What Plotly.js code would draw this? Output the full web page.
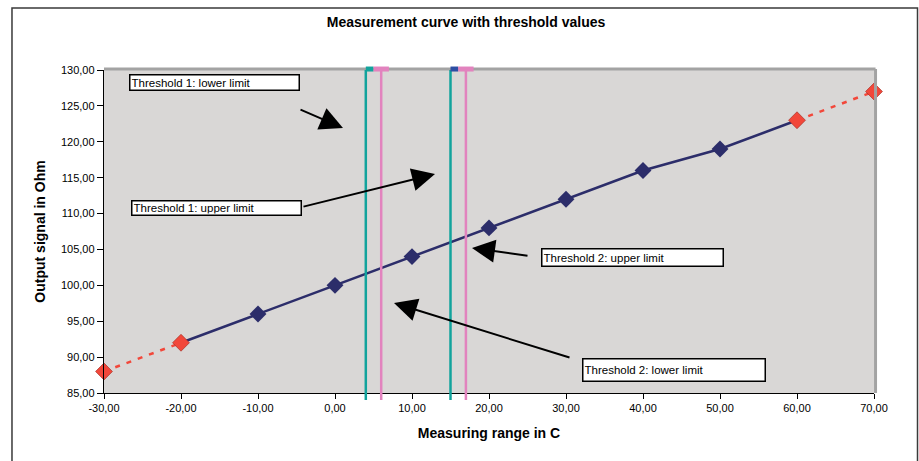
<!DOCTYPE html>
<html>
<head>
<meta charset="utf-8">
<script src="https://cdn.plot.ly/plotly-3.0.1.min.js"></script>
<style>
  html, body { margin: 0; padding: 0; background: #ffffff; }
  #chart { width: 919px; height: 461px; }
</style>
</head>
<body>
<div id="chart"></div>
<script>
// ---- data ----
const temperatures = [-30, -20, -10, 0, 10, 20, 30, 40, 50, 60, 70];
const resistances  = [88, 92, 96, 100, 104, 108, 112, 116, 119, 123, 127];
const measuredFrom = -20;   // start of solid measured segment
const measuredTo = 60;      // end of solid measured segment
const innerFrom = -10;      // navy markers range
const innerTo = 50;

const xTickValues = [-30, -20, -10, 0, 10, 20, 30, 40, 50, 60, 70];
const xTickLabels = ['-30,00', '-20,00', '-10,00', '0,00', '10,00', '20,00', '30,00', '40,00', '50,00', '60,00', '70,00'];
const yTickValues = [85, 90, 95, 100, 105, 110, 115, 120, 125, 130];
const yTickLabels = ['85,00', '90,00', '95,00', '100,00', '105,00', '110,00', '115,00', '120,00', '125,00', '130,00'];

const thresholdPositions = [4, 6, 15, 17];
const thresholdKinds = ['lower', 'upper', 'lower', 'upper'];
const capStarts = [4, 5, 15, 16];
const capEnds   = [5, 7, 16, 18];
const capKinds  = ['lower', 'upper', 'lower2', 'upper'];

const chartTitle = 'Measurement curve with threshold values';
const xTitle = 'Measuring range in C';
const yTitle = 'Output signal in Ohm';
const labels = ['Threshold 1: lower limit', 'Threshold 1: upper limit',
                'Threshold 2: upper limit', 'Threshold 2: lower limit'];

// ---- styles ----
const NAVY = '#2c2d6a';
const RED = '#f2473a';
const kindColor = { lower: '#12a39c', upper: '#e283be', lower2: '#2d4ea3' };

// ---- traces ----
const solidX = [], solidY = [], lowX = [], lowY = [], highX = [], highY = [];
const innerX = [], innerY = [], outerX = [], outerY = [];
temperatures.forEach((t, i) => {
  const r = resistances[i];
  if (t >= measuredFrom && t <= measuredTo) { solidX.push(t); solidY.push(r); }
  if (t <= measuredFrom) { lowX.push(t); lowY.push(r); }
  if (t >= measuredTo) { highX.push(t); highY.push(r); }
  if (t >= innerFrom && t <= innerTo) { innerX.push(t); innerY.push(r); }
  else { outerX.push(t); outerY.push(r); }
});

const traces = [
  { x: lowX, y: lowY, mode: 'lines', line: { color: RED, width: 2.5, dash: '5px,7px' }, hoverinfo: 'skip' },
  { x: highX, y: highY, mode: 'lines', line: { color: RED, width: 2.5, dash: '5px,7px' }, hoverinfo: 'skip' },
  { x: solidX, y: solidY, mode: 'lines', line: { color: NAVY, width: 2.5 } },
  { x: innerX, y: innerY, mode: 'markers', marker: { symbol: 'diamond', size: 13, color: NAVY } },
  { x: outerX, y: outerY, mode: 'markers', cliponaxis: false,
    marker: { symbol: 'diamond', size: 13, color: RED, line: { color: '#a8342a', width: 0.7 } } }
];

// ---- shapes ----
const shapes = [
  // outer frame
  { type: 'rect', xref: 'paper', yref: 'paper', x0: -0.1195, x1: 1.0565, y0: -0.25, y1: 1.192,
    line: { color: '#3a3a3a', width: 1.5 }, layer: 'above' },
  // gray top / right border of plot area
  { type: 'line', xref: 'paper', yref: 'paper', x0: 0, x1: 1.002, y0: 1.003, y1: 1.003,
    line: { color: '#a3a3a3', width: 3 }, layer: 'above' },
  { type: 'line', xref: 'paper', yref: 'paper', x0: 1.002, x1: 1.002, y0: 0, y1: 1.003,
    line: { color: '#a3a3a3', width: 3 }, layer: 'above' }
];
thresholdPositions.forEach((t, i) => {
  shapes.push({ type: 'line', xref: 'x', yref: 'paper', x0: t, x1: t, y0: -0.022, y1: 1,
    line: { color: kindColor[thresholdKinds[i]], width: 2.5 }, layer: 'above' });
});
capStarts.forEach((s, i) => {
  shapes.push({ type: 'line', xref: 'x', yref: 'paper', x0: s, x1: capEnds[i], y0: 1.003, y1: 1.003,
    line: { color: kindColor[capKinds[i]], width: 5 }, layer: 'above' });
});

// ---- annotations (pixel helpers: plot area 104..874 x 70..393) ----
const PL = 104, PW = 770, PT = 70, PH = 323;
const px = v => (v - PL) / PW;
const py = v => (PT + PH - v) / PH;
const boxFont = { family: 'Liberation Sans, Arial, sans-serif', size: 11.5, color: '#000' };
function box(text, x0, y0, x1, y1) {
  return { text: text, xref: 'paper', yref: 'paper', x: px(x0), y: py(y0), xanchor: 'left', yanchor: 'top',
    showarrow: false, align: 'left', valign: 'middle', bgcolor: '#ffffff', bordercolor: '#000000',
    borderwidth: 1.5, borderpad: 1, width: (x1 - x0) - 5, height: (y1 - y0) - 5, font: boxFont };
}
function arrow(tipX, tipY, tailX, tailY) {
  return { text: '', xref: 'paper', yref: 'paper', x: px(tipX), y: py(tipY),
    ax: tailX - tipX, ay: tailY - tipY, showarrow: true, arrowhead: 2, arrowsize: 2.3,
    arrowwidth: 2, arrowcolor: '#000000', standoff: 0, startstandoff: 0 };
}
const annotations = [
  box(labels[0], 129, 74, 300, 91),
  box(labels[1], 131, 200, 302, 216),
  box(labels[2], 541, 248, 724, 267),
  box(labels[3], 582, 358, 766, 382),
  arrow(343, 128, 299, 109),
  arrow(435, 174, 302, 207),
  arrow(472, 248, 529, 256),
  arrow(394, 303, 571, 358)
];

const axisFont = { family: 'Liberation Sans, Arial, sans-serif', size: 11, color: '#000' };
const titleFont = { family: 'Liberation Sans, Arial, sans-serif', size: 14, color: '#000', weight: 'bold' };

const layout = {
  width: 919, height: 461,
  margin: { l: 104, r: 45, t: 70, b: 68 },
  paper_bgcolor: '#ffffff',
  plot_bgcolor: '#d9d7d6',
  showlegend: false,
  title: { text: chartTitle, x: 466 / 919, xanchor: 'center', xref: 'container',
           y: 1 - 22 / 461, yanchor: 'middle', yref: 'container', font: titleFont },
  xaxis: {
    range: [-30, 70], tickmode: 'array', tickvals: xTickValues, ticktext: xTickLabels,
    showgrid: false, zeroline: false, showline: true, linecolor: '#000', linewidth: 1.2,
    ticks: 'outside', ticklen: 5, tickcolor: '#000', tickwidth: 1,
    tickfont: axisFont, fixedrange: true,
    title: { text: xTitle, font: titleFont, standoff: 14 }
  },
  yaxis: {
    range: [85, 130], tickmode: 'array', tickvals: yTickValues, ticktext: yTickLabels,
    showgrid: false, zeroline: false, showline: true, linecolor: '#000', linewidth: 1.2,
    ticks: 'outside', ticklen: 6, tickcolor: '#000', tickwidth: 1,
    tickfont: axisFont, fixedrange: true,
    title: { text: yTitle, font: titleFont, standoff: 12 }
  },
  shapes: shapes,
  annotations: annotations
};

Plotly.newPlot('chart', traces, layout, { displayModeBar: false, staticPlot: true });
</script>
</body>
</html>
